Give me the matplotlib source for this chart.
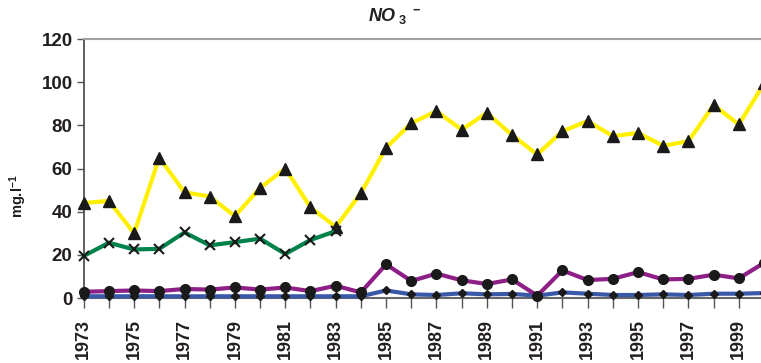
import numpy as np
import matplotlib
matplotlib.use("Agg")
import matplotlib.pyplot as plt

# data (mg/l), 1973-2000
years = list(range(1973, 2001))

yellow = [44, 45, 30, 65, 49, 47, 38, 51, 60, 42, 33, 48.6, 69.6, 81, 86.6, 78,
          85.8, 75.5, 66.5, 77.3, 82, 75, 76.5, 70.5, 72.7, 89.4, 80.4, 99.4]

green_years = list(range(1973, 1984))
green = [19.5, 25.6, 22.5, 22.8, 30.4, 24.4, 25.9, 27.5, 20.4, 26.9, 31]

purple = [2.9, 3.2, 3.5, 3.2, 4.2, 3.9, 4.9, 3.9, 4.9, 3.2, 5.7, 2.6, 15.6, 7.9,
          11.3, 8.2, 6.5, 8.6, 1.1, 12.8, 8.3, 8.9, 12, 8.6, 8.9, 10.8, 9.1, 16.3]

blue = [0.8, 0.8, 0.8, 0.8, 0.8, 0.8, 0.8, 0.8, 0.8, 0.8, 0.8, 0.8, 3.5, 1.7,
        1.4, 2.2, 1.7, 1.9, 1.1, 2.6, 2.0, 1.4, 1.4, 1.7, 1.4, 2.0, 2.0, 2.3]

yticks = [0, 20, 40, 60, 80, 100, 120]
xlabels = list(range(1973, 2001, 2))

plt.rcParams['font.family'] = ['Liberation Sans', 'DejaVu Sans']
plt.rcParams['font.weight'] = 'bold'
plt.rcParams['mathtext.fontset'] = 'custom'
plt.rcParams['mathtext.rm'] = 'Liberation Sans:bold'
plt.rcParams['mathtext.it'] = 'Liberation Sans:bold:italic'
plt.rcParams['mathtext.bf'] = 'Liberation Sans:bold'

fig = plt.figure(figsize=(7.61, 3.63), dpi=100)
ax = fig.add_axes([0.110, 0.179, 0.894, 0.7135])

ax.plot(years, blue, color='#3a58a8', lw=3, marker='D', ms=4.5,
        mfc='#1a1a1a', mec='#1a1a1a', zorder=3, clip_on=False)
ax.plot(years, purple, color='#8e1f86', lw=3, marker='o', ms=7,
        mfc='#1a1a1a', mec='#1a1a1a', zorder=4, clip_on=False)
ax.plot(years, yellow, color='#fff000', lw=3, marker='^', ms=8,
        mfc='#1a1a1a', mec='#1a1a1a', zorder=5, clip_on=False)
ax.plot(green_years, green, color='#00824a', lw=3, marker='x', ms=7,
        mew=1.5, mfc='#1a1a1a', mec='#1a1a1a', zorder=6, clip_on=False)

ax.set_xlim(1973, 2000)
ax.set_ylim(0, 120)
ax.set_yticks(yticks)
ax.set_xticks(years)
ax.set_xticklabels([str(y) if y in xlabels else '' for y in years])
ax.tick_params(axis='x', rotation=90, labelsize=13, length=7, width=1,
               color='#555555', pad=8, direction='out')
ax.tick_params(axis='y', labelsize=13.5, length=5, width=1,
               color='#555555', pad=3)
for lab in ax.get_xticklabels() + ax.get_yticklabels():
    lab.set_fontweight('bold')
    lab.set_color('#231f20')

ax.spines['right'].set_visible(False)
ax.spines['top'].set_color('#a0a0a0')
ax.spines['top'].set_linewidth(1.5)
ax.spines['left'].set_color('#444444')
ax.spines['left'].set_linewidth(1.2)
ax.spines['bottom'].set_color('#666666')
ax.spines['bottom'].set_linewidth(1.5)

fig.text(0.024, 0.46, r'mg.l$^{-1}$', rotation=90, fontsize=10.5, fontweight='bold',
         ha='center', va='center', color='#231f20')
fig.text(0.518, 0.955, r'$NO_{\ 3}{}^{\,\,-}$', fontsize=13, ha='center', va='center',
         color='#231f20')

plt.savefig('out.png', dpi=100)
